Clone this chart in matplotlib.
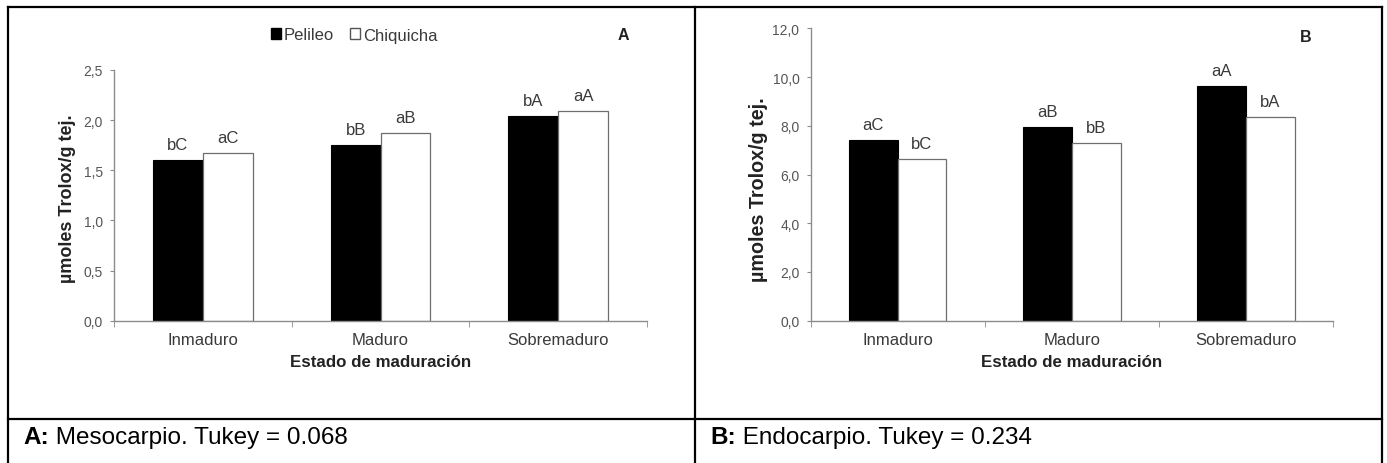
import matplotlib.pyplot as plt
import numpy as np
from matplotlib.lines import Line2D
from matplotlib.patches import Patch

# data
estados = ['Inmaduro', 'Maduro', 'Sobremaduro']
series = ['Pelileo', 'Chiquicha']

meso_pelileo = [1.60, 1.75, 2.04]
meso_chiquicha = [1.67, 1.87, 2.09]
meso_pelileo_lbl = ['bC', 'bB', 'bA']
meso_chiquicha_lbl = ['aC', 'aB', 'aA']
meso_yticks = [0.0, 0.5, 1.0, 1.5, 2.0, 2.5]

endo_pelileo = [7.43, 7.94, 9.63]
endo_chiquicha = [6.63, 7.29, 8.36]
endo_pelileo_lbl = ['aC', 'aB', 'aA']
endo_chiquicha_lbl = ['bC', 'bB', 'bA']
endo_yticks = [0.0, 2.0, 4.0, 6.0, 8.0, 10.0, 12.0]

captions = [('A:', ' Mesocarpio. Tukey = 0.068'), ('B:', ' Endocarpio. Tukey = 0.234')]

plt.rcParams['font.family'] = ['Liberation Sans', 'DejaVu Sans']

W, H = 1387, 464
fig = plt.figure(figsize=(W / 100, H / 100), dpi=100)

AXIS_COL = '#8c8c8c'
TXT_COL = '#3a3a3a'


def px(x0, y0, x1, y1):
    # pixel box (top-left origin) -> figure fraction rect
    return [x0 / W, 1 - y1 / H, (x1 - x0) / W, (y1 - y0) / H]


def draw_panel(ax, v1, v2, l1, l2, yticks, ylab_pos, ylab_size):
    x = np.arange(len(estados))
    w = 0.28
    b1 = ax.bar(x - w / 2, v1, w, color='black', edgecolor='black', linewidth=0.8)
    b2 = ax.bar(x + w / 2, v2, w, color='white', edgecolor='#6e6e6e', linewidth=0.9)
    for bars, lbls in ((b1, l1), (b2, l2)):
        for r, t in zip(bars, lbls):
            ax.annotate(t, (r.get_x() + r.get_width() / 2, r.get_height()),
                        xytext=(0, 11), textcoords='offset points',
                        ha='center', va='center', fontsize=12, color=TXT_COL)
    ax.set_xlim(-0.5, len(estados) - 0.5)
    ax.set_ylim(yticks[0], yticks[-1])
    ax.set_yticks(yticks)
    ax.set_yticklabels([f'{t:.1f}'.replace('.', ',') for t in yticks])
    ax.set_xticks(x)
    ax.set_xticklabels(estados)
    ax.set_xticks(np.arange(len(estados) + 1) - 0.5, minor=True)
    ax.tick_params(axis='x', which='major', length=0, labelsize=12,
                   labelcolor=TXT_COL, pad=8)
    ax.tick_params(axis='x', which='minor', length=4, color=AXIS_COL, direction='out')
    ax.tick_params(axis='y', length=3, color=AXIS_COL, labelsize=10,
                   labelcolor='#555555', pad=5)
    for s in ('top', 'right'):
        ax.spines[s].set_visible(False)
    for s in ('left', 'bottom'):
        ax.spines[s].set_color(AXIS_COL)
        ax.spines[s].set_linewidth(1.0)
    ax.set_xlabel('Estado de maduración', fontsize=12.2, fontweight='bold',
                  color='#222222', labelpad=5)
    ax.set_ylabel('µmoles Trolox/g tej.', fontsize=ylab_size, fontweight='bold',
                  color='#222222')
    ax.yaxis.set_label_coords(*ylab_pos)


axA = fig.add_axes(px(114, 71, 647, 321.7))
draw_panel(axA, meso_pelileo, meso_chiquicha, meso_pelileo_lbl, meso_chiquicha_lbl,
           meso_yticks, (-0.072, 0.49), 13)

axB = fig.add_axes(px(810.5, 29.3, 1333, 321.7))
draw_panel(axB, endo_pelileo, endo_chiquicha, endo_pelileo_lbl, endo_chiquicha_lbl,
           endo_yticks, (-0.082, 0.45), 14.2)

# legend only on panel A
handles = [Patch(facecolor='black', edgecolor='black'),
           Patch(facecolor='white', edgecolor='#555555')]
fig.legend(handles, series, loc='center', bbox_to_anchor=(354 / W, 1 - 36 / H),
           ncol=2, frameon=False, handlelength=0.6, handleheight=0.6,
           handletextpad=0.15, columnspacing=1.0, fontsize=12,
           labelcolor=TXT_COL)

fig.text(623 / W, 1 - 35 / H, 'A', fontsize=11.5, fontweight='bold',
         ha='center', va='center', color='#222222')
fig.text(1306 / W, 1 - 38 / H, 'B', fontsize=11.5, fontweight='bold',
         ha='center', va='center', color='#222222')

# table borders
lw = 1.6
for xs, ys in [((8, 1382), (8, 8)), ((8, 1382), (420, 420)),
               ((8, 8), (8, 464)), ((695, 695), (8, 464)),
               ((1382, 1382), (8, 464))]:
    fig.add_artist(Line2D([x / W for x in xs], [1 - y / H for y in ys],
                          color='black', linewidth=lw))

# captions
for (bold, rest), x0 in zip(captions, (23, 710)):
    t = fig.text(x0 / W, 1 - 438 / H, bold, fontsize=17.5, fontweight='bold',
                 ha='left', va='center')
    fig.canvas.draw()
    bb = t.get_window_extent()
    fig.text(bb.x1 / W, 1 - 438 / H, rest, fontsize=17.5, ha='left', va='center')

fig.savefig('out.png', dpi=100)
